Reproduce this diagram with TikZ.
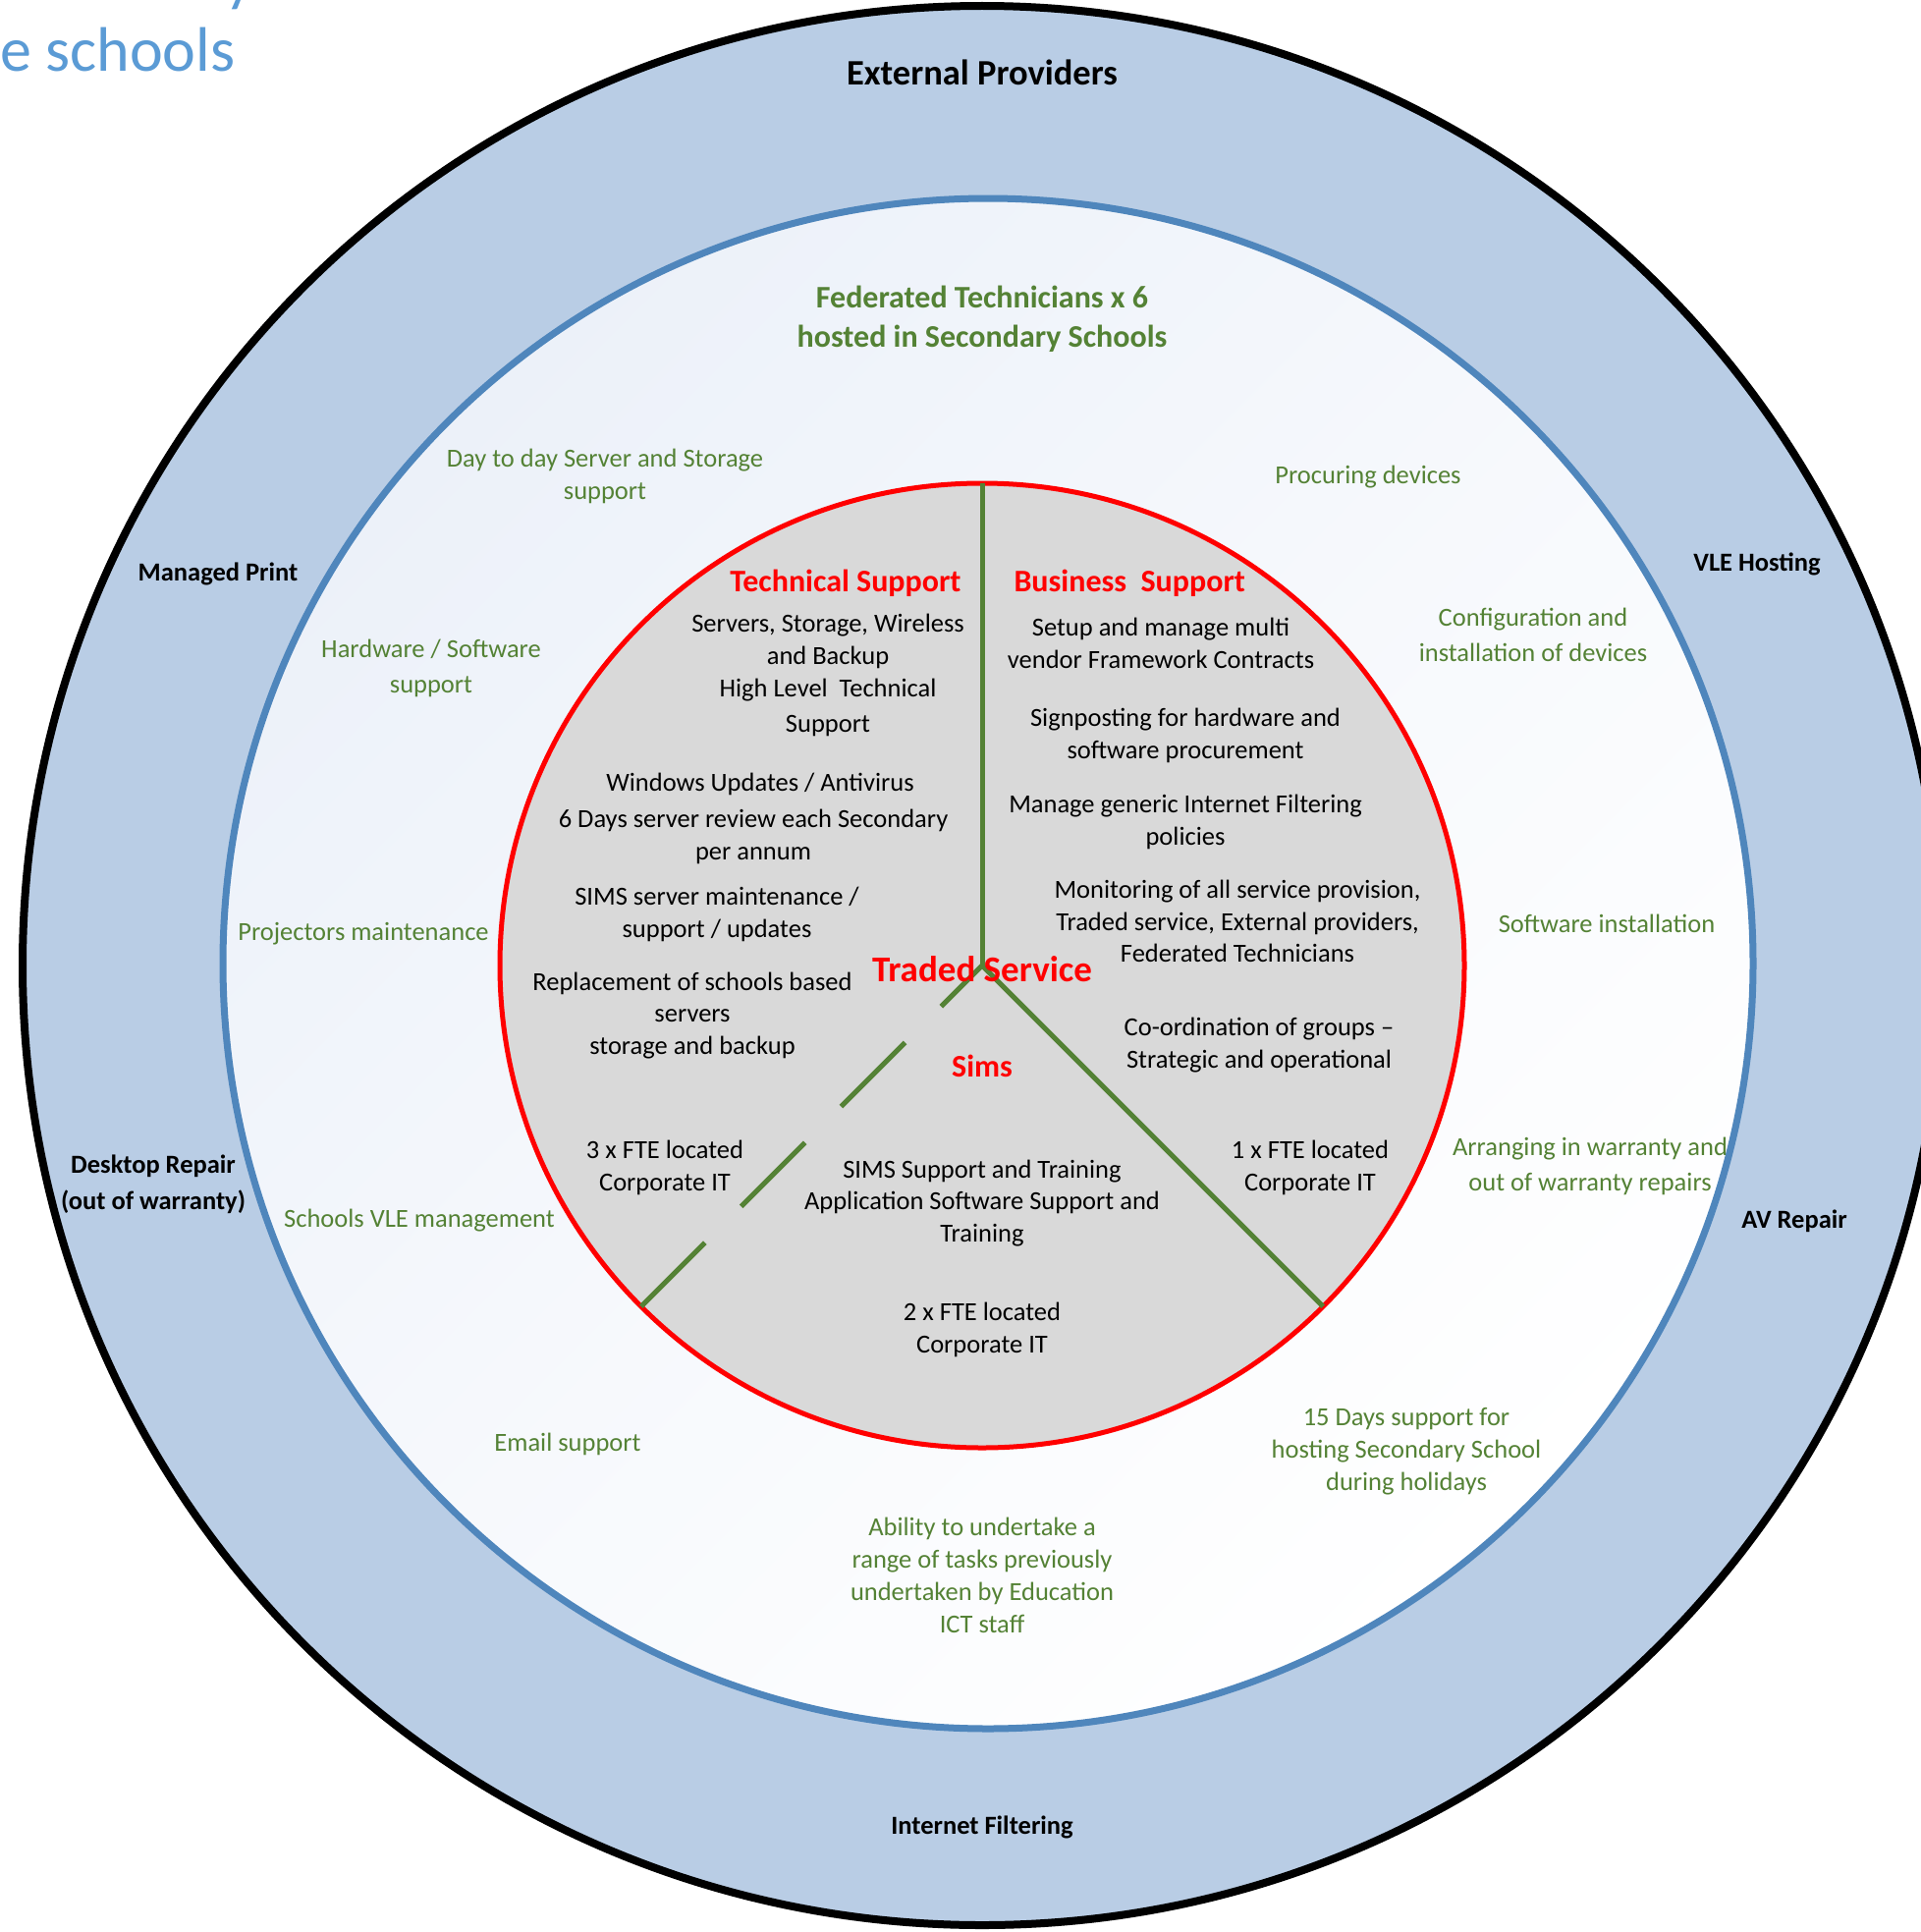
\documentclass[tikz,border=0pt]{standalone}
\usepackage{fontspec}
\setmainfont{Carlito}

\definecolor{ringblue}{RGB}{185,205,229}
\definecolor{edgeblue}{RGB}{79,134,188}
\definecolor{fedgreen}{RGB}{84,130,53}
\definecolor{coregray}{RGB}{217,217,217}
\definecolor{titleblue}{RGB}{91,155,213}
\definecolor{haze}{RGB}{236,241,249}

\begin{document}
\begin{tikzpicture}[x=1pt, y=-1pt,
    ring/.style={circle, inner sep=0pt, outer sep=0pt},
    provider/.style={font=\bfseries\fontsize{26.5}{37}\selectfont, align=center},
    fedtask/.style={text=fedgreen, font=\fontsize{26.5}{33}\selectfont, align=center},
    coretask/.style={font=\fontsize{26.5}{32.5}\selectfont, align=center},
    loose/.style={font=\fontsize{26.5}{36}\selectfont},
    heading/.style={text=red, font=\bfseries\fontsize{32}{38}\selectfont},
    spoke/.style={draw=fedgreen, line width=5pt}
]

% page
\fill[white] (0,0) rectangle (1956,1967);
\useasboundingbox (0,0) rectangle (1956,1967);

% --- TITLE (runs off the page) ---
\node[anchor=base west, inner sep=0pt, text=titleblue,
      font=\fontsize{64}{78}\selectfont] (title) at (0,73) {e schools};
\node[anchor=base west, inner sep=0pt, text=titleblue,
      font=\fontsize{64}{78}\selectfont] (titletail) at (229,0) {y};

% --- RINGS ---
\node[ring, minimum size=1954pt, draw=black, line width=8pt,
      fill=ringblue] (outer) at (1000,983) {};
\node[ring, minimum size=1558pt, draw=edgeblue, line width=7pt,
      top color=haze, bottom color=white, middle color=white!55!haze,
      shading angle=45] (middle) at (1006,981) {};
\node[ring, minimum size=982pt, draw=red, line width=5pt,
      fill=coregray] (core) at (1000,983) {};

% --- SPOKES ---
\coordinate (hub) at (core.center);
\draw[spoke] (core.north) -- (hub);
\draw[spoke] (hub) -- (core.-45);
\draw[spoke, dash pattern=on 92pt off 52pt] (core.-135) -- (hub);

\begin{scope}[yshift=-3pt]
% --- EXTERNAL PROVIDERS ---
\node[provider, font=\bfseries\fontsize{36.5}{44}\selectfont] (external) at (1000,71) {External Providers};
\node[provider] (print)   at (222,581)   {Managed Print};
\node[provider] (vle)     at (1789,571)  {VLE Hosting};
\node[provider] (desktop) at (156,1203)  {Desktop Repair\\(out of warranty)};
\node[provider] (av)      at (1827,1240) {AV Repair};
\node[provider] (filter)  at (1000,1857) {Internet Filtering};

% --- FEDERATED TECHNICIANS ---
\node[fedtask, font=\bfseries\fontsize{32}{40}\selectfont] (fedtitle) at (1000,322)
  {Federated Technicians x 6\\hosted in Secondary Schools};
\node[fedtask] (daytoday)  at (616,482)   {Day to day Server and Storage\\support};
\node[fedtask] (procure)   at (1393,483)  {Procuring devices};
\node[fedtask, loose] (hwsw)   at (439,677)   {Hardware / Software\\support};
\node[fedtask, loose] (config) at (1561,643)  {Configuration and\\installation of devices};
\node[fedtask] (projector) at (370,948)   {Projectors maintenance};
\node[fedtask] (swinstall) at (1636,937)  {Software installation};
\node[fedtask] (vlemgmt)   at (427,1240)  {Schools VLE management};
\node[fedtask, loose] (warranty) at (1619,1184) {Arranging in warranty and\\out of warranty repairs};
\node[fedtask] (email)     at (578,1467)  {Email support};
\node[fedtask] (holiday)   at (1432,1475) {15 Days support for\\hosting Secondary School\\during holidays};
\node[fedtask] (ability)   at (1000,1601)
  {Ability to undertake a\\range of tasks previously\\undertaken by Education\\ICT staff};

% --- TECHNICAL SUPPORT ---
\node[heading, anchor=east] (techhead) at (982,591) {Technical Support};
\node[coretask] (servers)    at (843,650)  {Servers, Storage, Wireless\\and Backup};
\node[coretask, loose] (highlevel) at (843,717) {High Level\ \ Technical\\Support};
\node[coretask] (windows)    at (774,795)  {Windows Updates / Antivirus};
\node[coretask] (review)     at (767,849)  {6 Days server review each Secondary\\per annum};
\node[coretask] (simsserver) at (730,928)  {SIMS server maintenance /\\support / updates};
\node[coretask] (replace)    at (705,1031) {Replacement of schools based\\servers\\storage and backup};
\node[coretask] (techfte)    at (677,1186) {3 x FTE located\\Corporate IT};

% --- BUSINESS SUPPORT ---
\node[heading, anchor=west] (bizhead) at (1029,591) {Business\ \ Support};
\node[coretask] (setup)     at (1182,652)  {Setup and manage multi\\vendor Framework Contracts};
\node[coretask] (signpost)  at (1207,746)  {Signposting for hardware and\\software procurement};
\node[coretask] (filtering) at (1207,834)  {Manage generic Internet Filtering\\policies};
\node[coretask] (monitor)   at (1260,935)
  {Monitoring of all service provision,\\Traded service, External providers,\\Federated Technicians};
\node[coretask] (coord)     at (1282,1061) {Co-ordination of groups –\\Strategic and operational};
\node[coretask] (bizfte)    at (1334,1186) {1 x FTE located\\Corporate IT};

% --- SIMS ---
\node[heading, font=\bfseries\fontsize{37}{44}\selectfont] (traded) at (1000,984) {Traded Service};
\node[heading] (sims)       at (1000,1082) {Sims};
\node[coretask] (simstask)  at (1000,1222) {SIMS Support and Training\\Application Software Support and\\Training};
\node[coretask] (simsfte)   at (1000,1351) {2 x FTE located\\Corporate IT};
\end{scope}

\end{tikzpicture}
\end{document}
